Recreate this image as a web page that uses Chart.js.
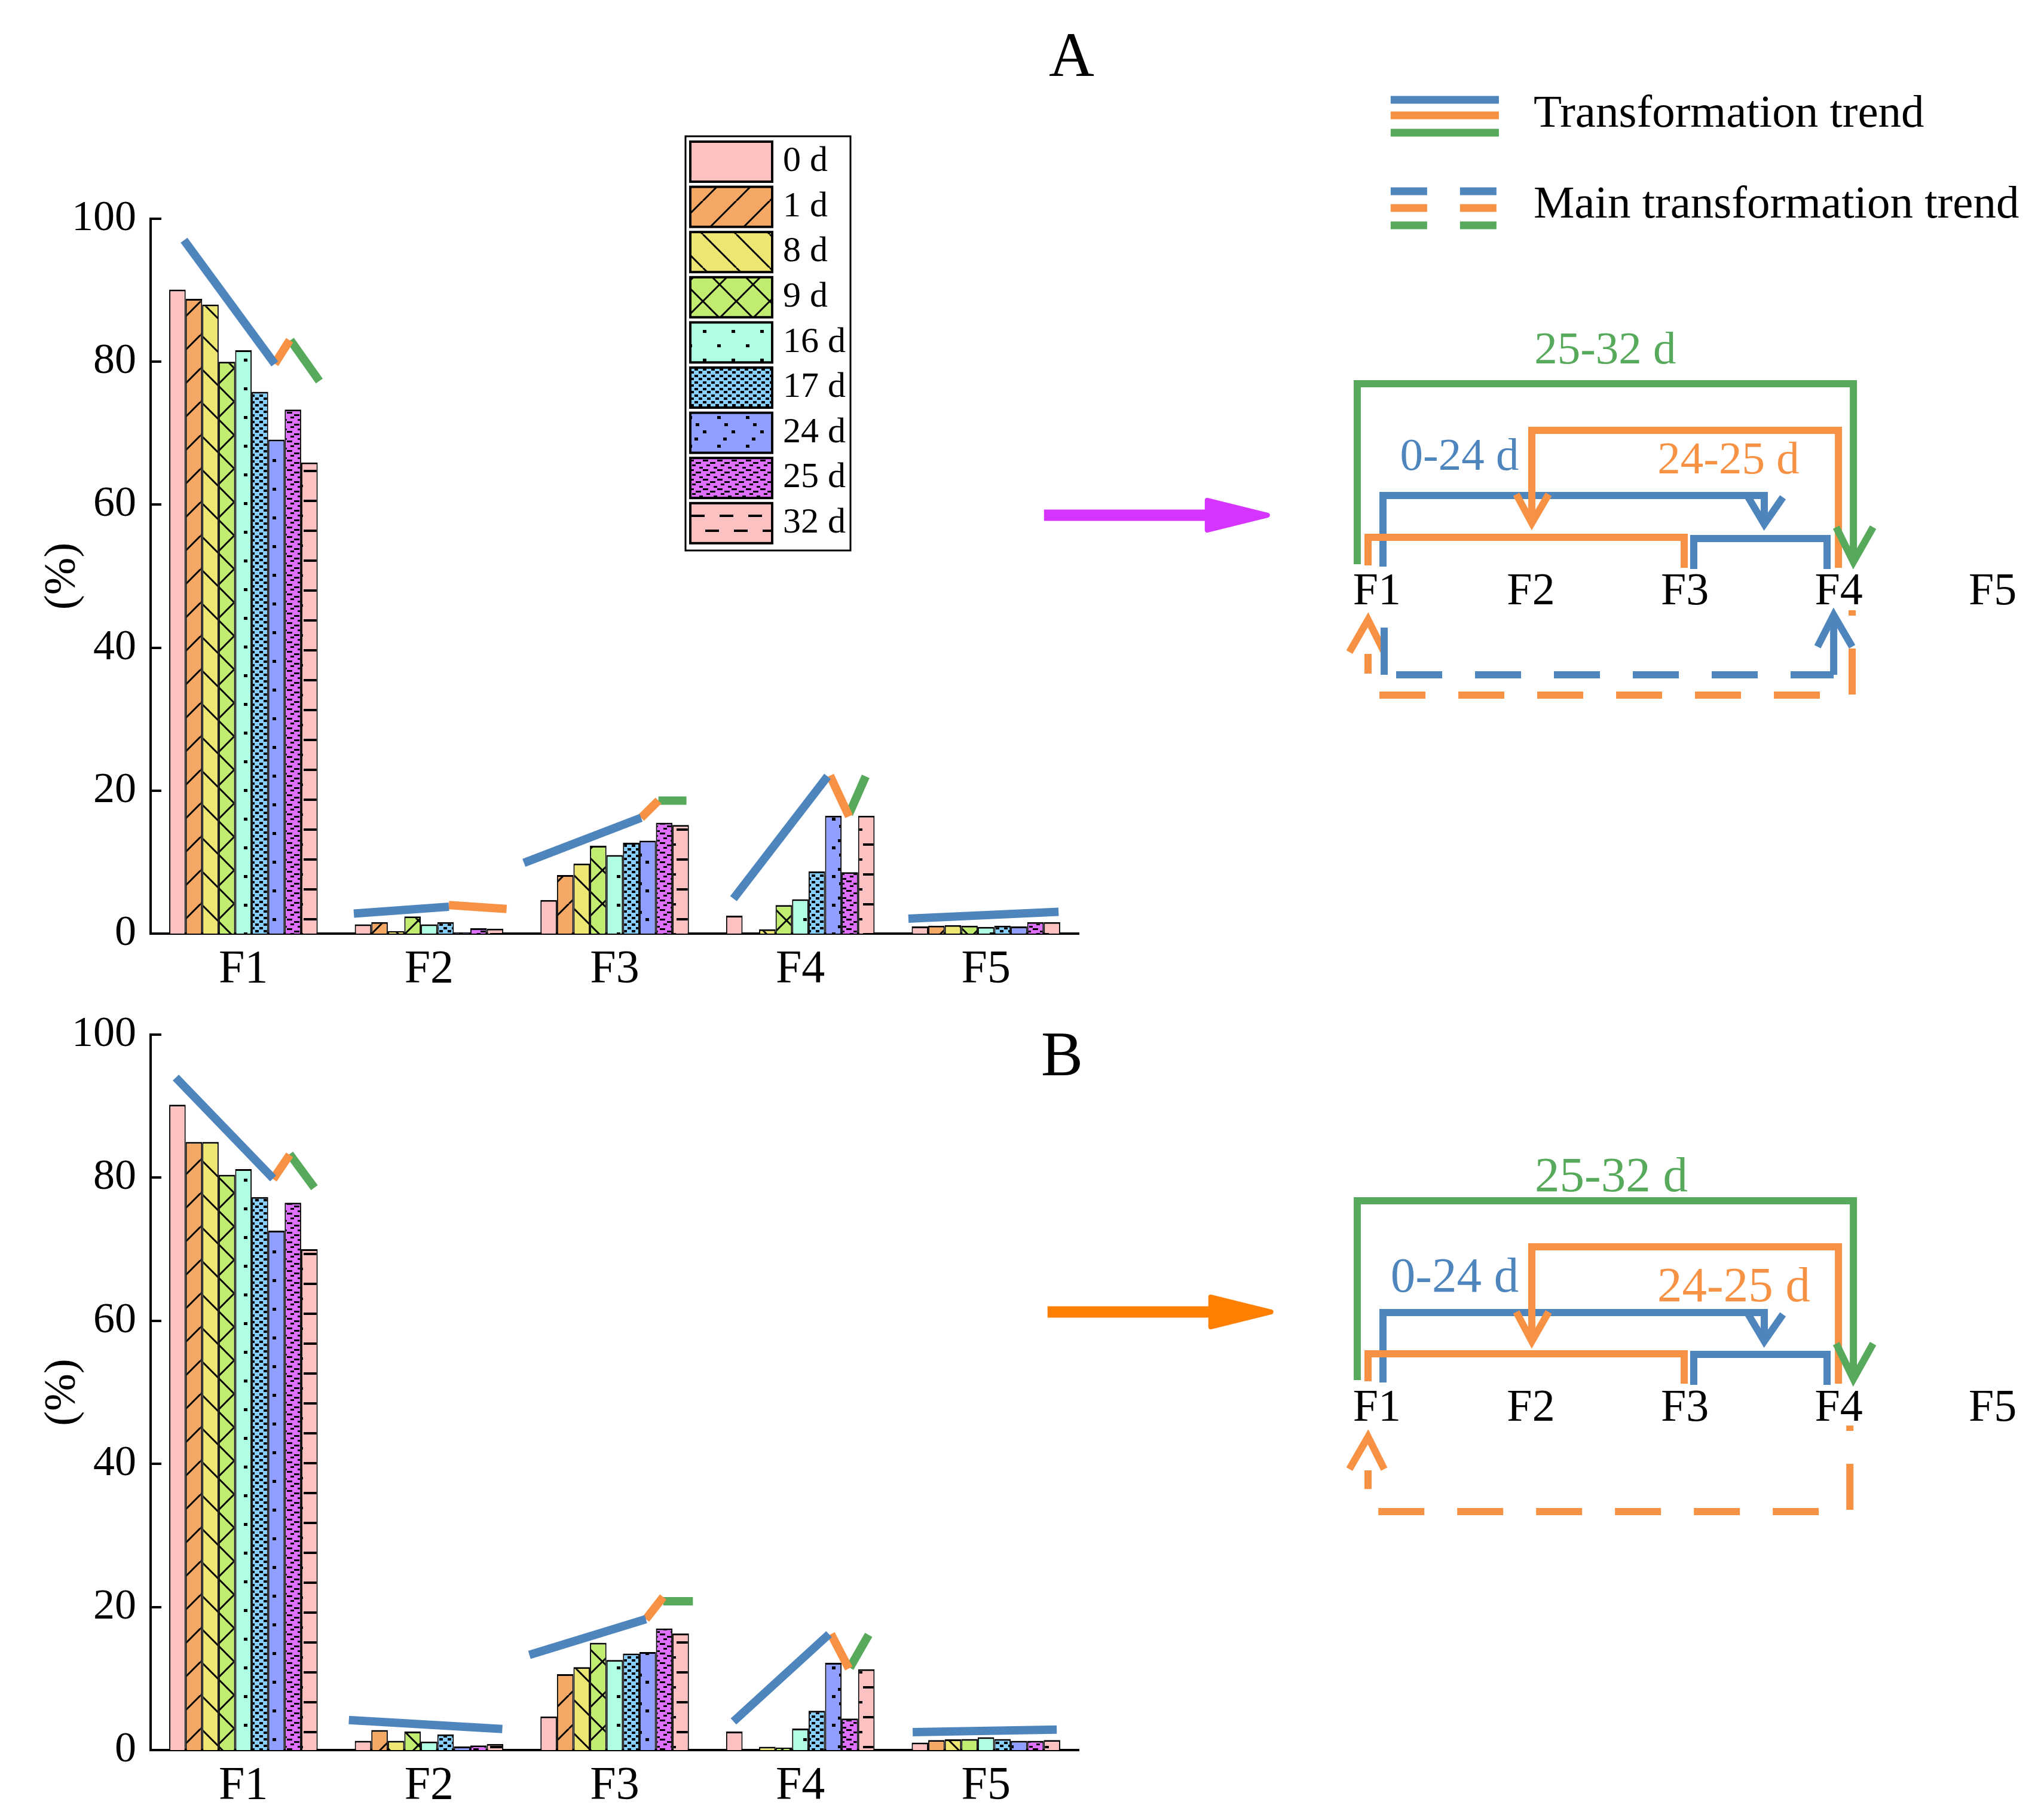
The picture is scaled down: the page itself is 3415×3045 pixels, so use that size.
<!DOCTYPE html>
<html lang="en">
<head>
<meta charset="utf-8">
<title>Fraction transformation</title>
<script src="https://cdn.jsdelivr.net/npm/chart.js@4.4.1/dist/chart.umd.min.js"></script>
<style>
  html, body { margin: 0; padding: 0; background: #fff; }
  body { position: relative; width: 3415px; height: 3045px; overflow: hidden; }
  canvas { position: absolute; }
</style>
</head>
<body>
<canvas id="barA" width="1900" height="1660" style="left:0;top:0"></canvas>
<canvas id="lineA" width="1900" height="1660" style="left:0;top:0"></canvas>
<canvas id="barB" width="1900" height="1385" style="left:0;top:1660px"></canvas>
<canvas id="lineB" width="1900" height="1385" style="left:0;top:1660px"></canvas>
<canvas id="flowA" width="1803" height="1230" style="left:1660px;top:1px"></canvas>
<canvas id="flowB" width="1803" height="690" style="left:1660px;top:1907px"></canvas>
<script>
// ---------- bar panels ----------
const categories = ['F1', 'F2', 'F3', 'F4', 'F5'];
const days = ['0 d', '1 d', '8 d', '9 d', '16 d', '17 d', '24 d', '25 d', '32 d'];
const yTicks = [0, 20, 40, 60, 80, 100];

// one row per sampling day, values for F1..F5 (%)
const panelA = [
  [90.1, 1.3, 4.7, 2.5, 1.0],
  [88.8, 1.6, 8.2, 0.0, 1.1],
  [88.0, 0.35, 9.8, 0.6, 1.2],
  [80.0, 2.4, 12.3, 4.0, 1.1],
  [81.6, 1.3, 11.0, 4.8, 0.95],
  [75.8, 1.6, 12.7, 8.7, 1.1],
  [69.1, 0.1, 13.0, 16.5, 1.0],
  [73.3, 0.75, 15.5, 8.6, 1.6],
  [65.9, 0.7, 15.2, 16.5, 1.6]
];
const panelB = [
  [90.2, 1.3, 4.7, 2.6, 1.05],
  [85.0, 2.8, 10.6, 0.0, 1.4],
  [85.0, 1.3, 11.6, 0.45, 1.5],
  [80.4, 2.6, 15.0, 0.35, 1.55],
  [81.2, 1.2, 12.6, 3.0, 1.8],
  [77.3, 2.2, 13.5, 5.5, 1.55],
  [72.6, 0.5, 13.7, 12.2, 1.3],
  [76.5, 0.65, 17.0, 4.4, 1.3],
  [70.0, 0.85, 16.3, 11.3, 1.4]
];

// trend segments: [category, phase, start slot, start %, end slot, end %]
// slot = offset from the group centre, in bar widths
const trendA = [
  [0, 'blue', -3.6, 97.0, 1.9, 79.7],
  [0, 'orange', 1.9, 79.7, 2.8, 83.0],
  [0, 'green', 2.85, 83.0, 4.6, 77.3],
  [1, 'blue', -4.56, 2.8, 1.2, 3.76],
  [1, 'orange', 1.2, 4.0, 4.7, 3.45],
  [2, 'blue', -5.5, 9.9, 1.6, 16.2],
  [2, 'orange', 1.6, 16.2, 2.65, 18.6],
  [2, 'green', 2.65, 18.6, 4.35, 18.6],
  [3, 'blue', -4.05, 4.9, 1.65, 22.0],
  [3, 'orange', 1.8, 22.1, 2.95, 16.4],
  [3, 'green', 2.95, 16.7, 3.96, 22.0],
  [4, 'blue', -4.7, 2.1, 4.4, 3.06]
];
const trendB = [
  [0, 'blue', -4.1, 94.0, 1.8, 79.9],
  [0, 'orange', 1.8, 79.8, 2.8, 83.2],
  [0, 'green', 2.8, 83.3, 4.3, 78.6],
  [1, 'blue', -4.86, 4.2, 4.44, 2.95],
  [2, 'blue', -5.17, 13.3, 1.89, 18.3],
  [2, 'orange', 1.89, 18.3, 2.94, 21.4],
  [2, 'green', 2.94, 20.8, 4.74, 20.8],
  [3, 'blue', -4.05, 4.0, 1.74, 16.2],
  [3, 'orange', 1.86, 16.2, 2.94, 11.4],
  [3, 'green', 3.0, 11.5, 4.14, 16.1],
  [4, 'blue', -4.44, 2.5, 4.29, 2.87]
];

// ---------- flow diagrams ----------
// x: F1..F5 = 1..5, y: level above the F labels (1 unit = 10 px)
// [phase, stroke, points]
const flowA = [
  ['blue', 'key', [[1.089, 82.4], [1.792, 82.4]]],
  ['orange', 'key', [[1.089, 79.8], [1.792, 79.8]]],
  ['green', 'key', [[1.089, 76.9], [1.792, 76.9]]],
  ['blue', 'keyDash', [[1.089, 67.1], [1.781, 67.1]]],
  ['orange', 'keyDash', [[1.089, 64.3], [1.781, 64.3]]],
  ['green', 'keyDash', [[1.089, 61.4], [1.781, 61.4]]],
  ['green', 'solid', [[0.872, 4.7], [0.872, 34.9], [4.095, 34.9], [4.095, 5.2]]],
  ['green', 'solid', [[3.983, 10.9], [4.095, 5.1], [4.223, 10.9]]],
  ['orange', 'solid', [[3.998, 4.1], [3.998, 27.1], [2.006, 27.1], [2.006, 11.6]]],
  ['orange', 'solid', [[1.905, 16.4], [2.006, 11.6], [2.115, 16.4]]],
  ['orange', 'solid', [[0.942, 4.5], [0.942, 9.2], [2.996, 9.2], [2.996, 4.1]]],
  ['blue', 'solid', [[1.039, 4.3], [1.039, 16.2], [3.516, 16.2], [3.516, 11.4]]],
  ['blue', 'solid', [[3.412, 15.9], [3.516, 11.4], [3.637, 15.9]]],
  ['blue', 'solid', [[3.058, 3.9], [3.058, 9.0], [3.924, 9.0], [3.924, 3.9]]],
  ['blue', 'solid', [[1.047, -5.9], [1.047, -13.8]]],
  ['blue', 'dashLead', [[1.047, -13.8], [3.967, -13.8]]],
  ['blue', 'solid', [[3.967, -13.8], [3.967, -3.8]]],
  ['blue', 'solid', [[3.862, -9.1], [3.967, -3.8], [4.087, -9.1]]],
  ['orange', 'dashTail', [[4.087, -3.0], [4.087, -17.2], [0.942, -17.2], [0.942, -10.3]]],
  ['orange', 'solid', [[0.821, -10.0], [0.942, -4.6], [1.047, -10.0]]]
];
const flowB = [
  ['green', 'solid', [[0.872, 4.8], [0.872, 34.8], [4.095, 34.8], [4.095, 5.0]]],
  ['green', 'solid', [[3.983, 10.9], [4.095, 5.0], [4.223, 10.9]]],
  ['orange', 'solid', [[3.998, 4.2], [3.998, 27.1], [2.006, 27.1], [2.006, 11.3]]],
  ['orange', 'solid', [[1.905, 16.2], [2.006, 11.3], [2.115, 16.2]]],
  ['orange', 'solid', [[0.942, 4.6], [0.942, 9.2], [2.996, 9.2], [2.996, 4.2]]],
  ['blue', 'solid', [[1.039, 4.4], [1.039, 16.1], [3.516, 16.1], [3.516, 11.3]]],
  ['blue', 'solid', [[3.412, 15.8], [3.516, 11.3], [3.637, 15.8]]],
  ['blue', 'solid', [[3.058, 4.0], [3.058, 9.1], [3.924, 9.1], [3.924, 4.0]]],
  ['orange', 'dashTail', [[4.072, -2.8], [4.072, -17.2], [0.942, -17.2], [0.942, -10.3]]],
  ['orange', 'solid', [[0.821, -10.1], [0.942, -4.7], [1.047, -10.1]]]
];
// big arrows between panels: [colour, tail x, head base x, tip x, level, half height]
const arrowA = [['magenta', -1.163, -0.103, 0.289, 12.9, 2.5]];
const arrowB = [['arrowOrange', -1.140, -0.080, 0.312, 16.2, 2.5]];

// [text, x, level, colour, kind]
const flowTextA = [
  ['F1', 1, 0, 'black', 'axis'], ['F2', 2, 0, 'black', 'axis'], ['F3', 3, 0, 'black', 'axis'],
  ['F4', 4, 0, 'black', 'axis'], ['F5', 5, 0, 'black', 'axis'],
  ['25-32 d', 2.483, 40.3, 'green', 'range'],
  ['0-24 d', 1.536, 22.5, 'blue', 'range'],
  ['24-25 d', 3.283, 21.9, 'orange', 'range'],
  ['Transformation trend', 2.017, 79.9, 'black', 'key'],
  ['Main transformation trend', 2.017, 64.7, 'black', 'key']
];
const flowTextB = [
  ['F1', 1, 0, 'black', 'axis'], ['F2', 2, 0, 'black', 'axis'], ['F3', 3, 0, 'black', 'axis'],
  ['F4', 4, 0, 'black', 'axis'], ['F5', 5, 0, 'black', 'axis'],
  ['25-32 d', 2.522, 38.6, 'green', 'range'],
  ['0-24 d', 1.505, 21.8, 'blue', 'range'],
  ['24-25 d', 3.318, 20.2, 'orange', 'range']
];

// ---------- styles ----------
const SERIF = '"Liberation Serif", "Times New Roman", serif';
Chart.defaults.font.family = SERIF;
Chart.defaults.color = '#000';

const colors = {
  blue: '#4E85BD', orange: '#F79144', green: '#57A95B', black: '#000',
  magenta: '#D634FF', arrowOrange: '#FF8000'
};
const dayColors = ['#FDC1C1', '#F4A866', '#EEE673', '#C0EC70', '#B0FEE1', '#86CFFE', '#909EFE', '#DF70FE', '#FDC1C1'];
const dayHatch = ['none', 'slash', 'backslash', 'cross', 'sparse', 'checker', 'dots', 'wave', 'dash'];

const strokes = {
  solid:    { width: 12, dash: [100000, 0], offset: 0 },
  key:      { width: 13, dash: [100000, 0], offset: 0 },
  keyDash:  { width: 13, dash: [61, 55], offset: 0 },
  dashLead: { width: 12, dash: [77, 55], offset: 112 },
  dashTail: { width: 12, dash: [77, 55], offset: 68 }
};

// plot area of both bar panels inside their canvases
const padA = { top: 366, right: 95, left: 252, bottom: 98 };
const padB = { top: 71, right: 95, left: 252, bottom: 117 };

// fill patterns for the bars
function hatch(color, kind) {
  const tile = document.createElement('canvas');
  const sizes = { slash: [56, 56], backslash: [56, 56], cross: [56, 56], sparse: [48, 48], checker: [14, 11],
                  dots: [48, 48], wave: [48, 16], dash: [48, 50], none: [8, 8] };
  const [w, h] = sizes[kind];
  tile.width = w;
  tile.height = h;
  const g = tile.getContext('2d');
  g.fillStyle = color;
  g.fillRect(0, 0, w, h);
  g.strokeStyle = '#000';
  g.fillStyle = '#000';
  g.lineWidth = 3;
  const diag = (dir) => {
    for (const o of [-w, 0, w]) {
      g.beginPath();
      if (dir > 0) { g.moveTo(o, h); g.lineTo(o + w, 0); }
      else { g.moveTo(o, 0); g.lineTo(o + w, h); }
      g.stroke();
    }
  };
  if (kind === 'slash') diag(1);
  if (kind === 'backslash') diag(-1);
  if (kind === 'cross') { diag(1); diag(-1); }
  if (kind === 'sparse') { g.fillRect(0, 0, 6, 5); g.fillRect(24, 24, 6, 5); }
  if (kind === 'checker') { g.fillRect(0, 0, 6, 4); g.fillRect(7, 5, 6, 4); }
  if (kind === 'dots') {
    g.fillRect(24, 0, 6, 5); g.fillRect(10, 12, 6, 5);
    g.fillRect(0, 24, 6, 5); g.fillRect(12, 36, 6, 5);
  }
  if (kind === 'wave') {
    [[0, 1], [12, 5], [24, 1], [36, 5]].forEach(p => g.fillRect(p[0], p[1], 9, 3));
    [[6, 9], [18, 13], [30, 9], [42, 13]].forEach(p => g.fillRect(p[0], p[1], 6, 3));
  }
  if (kind === 'dash') {
    g.fillRect(4, 11, 23, 4);
    g.fillRect(28, 36, 20, 4);
    g.fillRect(0, 36, 3, 4);
  }
  return g.createPattern(tile, 'repeat');
}

// legend drawn inside panel A
function drawBarLegend(chart, L) {
  const ctx = chart.ctx;
  ctx.lineWidth = 3;
  ctx.strokeStyle = '#000';
  ctx.strokeRect(L.x, L.y, L.w, L.h);
  chart.data.datasets.forEach((d, i) => {
    const top = L.rowTop + i * L.rowStep;
    ctx.fillStyle = d.backgroundColor;
    ctx.fillRect(L.swX, top, L.swW, L.swH);
    ctx.lineWidth = 4;
    ctx.strokeRect(L.swX, top, L.swW, L.swH);
    ctx.fillStyle = '#000';
    ctx.font = L.font;
    ctx.textAlign = 'left';
    ctx.textBaseline = 'middle';
    ctx.fillText(d.label, L.textX, top + L.swH / 2);
  });
}

const panelDecor = {
  id: 'panelDecor',
  afterDraw(chart, args, o) {
    const { ctx, chartArea: area, scales: { y } } = chart;
    ctx.save();
    // inward tick marks
    ctx.strokeStyle = '#000';
    ctx.lineWidth = 4;
    y.ticks.forEach(t => {
      if (t.value === y.min) return;
      const py = Math.round(y.getPixelForValue(t.value));
      ctx.beginPath();
      ctx.moveTo(area.left, py);
      ctx.lineTo(area.left + o.tickLength, py);
      ctx.stroke();
    });
    // panel letter
    ctx.fillStyle = '#000';
    ctx.font = o.letterFont;
    ctx.textAlign = 'center';
    ctx.textBaseline = 'alphabetic';
    ctx.fillText(o.letter, o.letterX, o.letterY);
    if (o.legend) drawBarLegend(chart, o.legend);
    ctx.restore();
  }
};

function barPanel(id, values, pad, decor) {
  const bars = days.map((d, i) => ({
    label: d,
    data: values[i],
    backgroundColor: hatch(dayColors[i], dayHatch[i]),
    borderColor: '#000',
    borderWidth: { top: 3, left: 2, right: 2, bottom: 0 },
    borderSkipped: 'start',
    categoryPercentage: 0.8,
    barPercentage: 1
  }));

  return new Chart(document.getElementById(id), {
    type: 'bar',
    data: { labels: categories, datasets: bars },
    options: {
      responsive: false,
      devicePixelRatio: 1,
      animation: false,
      events: [],
      layout: { padding: { top: pad.top, right: pad.right, left: 0, bottom: 0 } },
      plugins: { legend: { display: false }, tooltip: { enabled: false }, panelDecor: decor },
      scales: {
        x: {
          grid: { display: false, drawTicks: false },
          border: { display: true, width: 4, color: '#000' },
          ticks: { font: { size: 78 }, padding: 14, maxRotation: 0, autoSkip: false },
          afterFit: s => { s.height = pad.bottom; }
        },
        y: {
          min: 0,
          max: 100,
          afterBuildTicks: s => { s.ticks = yTicks.map(v => ({ value: v })); },
          grid: { display: false, drawTicks: false },
          border: { display: true, width: 4, color: '#000' },
          ticks: { font: { size: 72 }, padding: 24 },
          title: { display: true, text: '(%)', font: { size: 75 }, padding: { top: 60, bottom: 0 } },
          afterFit: s => { s.width = pad.left; }
        }
      }
    },
    plugins: [panelDecor]
  });
}

// trend lines drawn over the bars, on a linear axis aligned with the categories
function trendPanel(id, trends, pad) {
  const slot = 0.8 / days.length;
  const lines = trends.map(t => ({
    data: [{ x: t[0] + t[2] * slot, y: t[3] }, { x: t[0] + t[4] * slot, y: t[5] }],
    borderColor: colors[t[1]],
    borderWidth: 14,
    borderCapStyle: 'butt',
    pointRadius: 0,
    fill: false
  }));
  return new Chart(document.getElementById(id), {
    type: 'line',
    data: { datasets: lines },
    options: {
      responsive: false,
      devicePixelRatio: 1,
      animation: false,
      events: [],
      layout: { padding: pad },
      plugins: { legend: { display: false }, tooltip: { enabled: false } },
      scales: {
        x: { type: 'linear', display: false, min: -0.5, max: 4.5 },
        y: { type: 'linear', display: false, min: 0, max: 100 }
      }
    }
  });
}

// text labels placed through the diagram scales
const flowText = {
  id: 'flowText',
  afterDatasetsDraw(chart, args, o) {
    const { ctx, scales: { x, y } } = chart;
    ctx.save();
    ctx.textBaseline = 'middle';
    o.items.forEach(t => {
      ctx.font = o.fonts[t[4]];
      ctx.fillStyle = colors[t[3]];
      ctx.textAlign = t[4] === 'key' ? 'left' : 'center';
      ctx.fillText(t[0], x.getPixelForValue(t[1]), y.getPixelForValue(t[2]));
    });
    ctx.restore();
  }
};

function flowPanel(id, paths, arrows, texts, yMin, yMax, fonts) {
  const datasets = paths.map(p => {
    const s = strokes[p[1]];
    return {
      data: p[2].map(q => ({ x: q[0], y: q[1] })),
      borderColor: colors[p[0]],
      borderWidth: s.width,
      borderDash: s.dash,
      borderDashOffset: s.offset,
      borderJoinStyle: 'miter',
      borderCapStyle: 'butt',
      pointRadius: 0,
      fill: false
    };
  });
  arrows.forEach(a => {
    const c = colors[a[0]];
    const [, tail, base, tip, lv, h] = a;
    // shaft
    datasets.push({
      data: [{ x: tail, y: lv }, { x: base + 0.03, y: lv }],
      borderColor: c, borderWidth: 19, borderCapStyle: 'butt', pointRadius: 0, fill: false
    });
    // head: two filled halves plus a rounded outline
    [lv + h, lv - h].forEach(edge => datasets.push({
      data: [{ x: base, y: edge }, { x: tip, y: lv }],
      borderColor: c, backgroundColor: c, borderWidth: 0, pointRadius: 0,
      fill: { value: lv }
    }));
    datasets.push({
      data: [{ x: base, y: lv + h }, { x: tip, y: lv }, { x: base, y: lv - h }, { x: base, y: lv + h }],
      borderColor: c, borderWidth: 8, borderDash: [100000, 0],
      borderJoinStyle: 'round', borderCapStyle: 'round', pointRadius: 0, fill: false
    });
  });

  return new Chart(document.getElementById(id), {
    type: 'line',
    data: { datasets },
    options: {
      responsive: false,
      devicePixelRatio: 1,
      animation: false,
      events: [],
      layout: { padding: 0 },
      plugins: { legend: { display: false }, tooltip: { enabled: false }, flowText: { items: texts, fonts } },
      scales: {
        x: { type: 'linear', display: false, min: -1.5, max: 5.5 },
        y: { type: 'linear', display: false, min: yMin, max: yMax }
      }
    },
    plugins: [flowText]
  });
}

barPanel('barA', panelA, padA, {
  tickLength: 18,
  letter: 'A', letterX: 1793, letterY: 127, letterFont: '105px ' + SERIF,
  legend: {
    x: 1147, y: 228, w: 276, h: 693,
    swX: 1155, swW: 137, swH: 67, rowTop: 237, rowStep: 75.6,
    textX: 1310, font: '60px ' + SERIF
  }
});
trendPanel('lineA', trendA, padA);

barPanel('barB', panelB, padB, {
  tickLength: 18,
  letter: 'B', letterX: 1777, letterY: 139, letterFont: '105px ' + SERIF
});
trendPanel('lineB', trendB, padB);

flowPanel('flowA', flowA, arrowA, flowTextA, -24, 99,
  { axis: '76px ' + SERIF, range: '77px ' + SERIF, key: '77px ' + SERIF });
flowPanel('flowB', flowB, arrowB, flowTextB, -24, 45,
  { axis: '76px ' + SERIF, range: '83px ' + SERIF, key: '77px ' + SERIF });
</script>
</body>
</html>
